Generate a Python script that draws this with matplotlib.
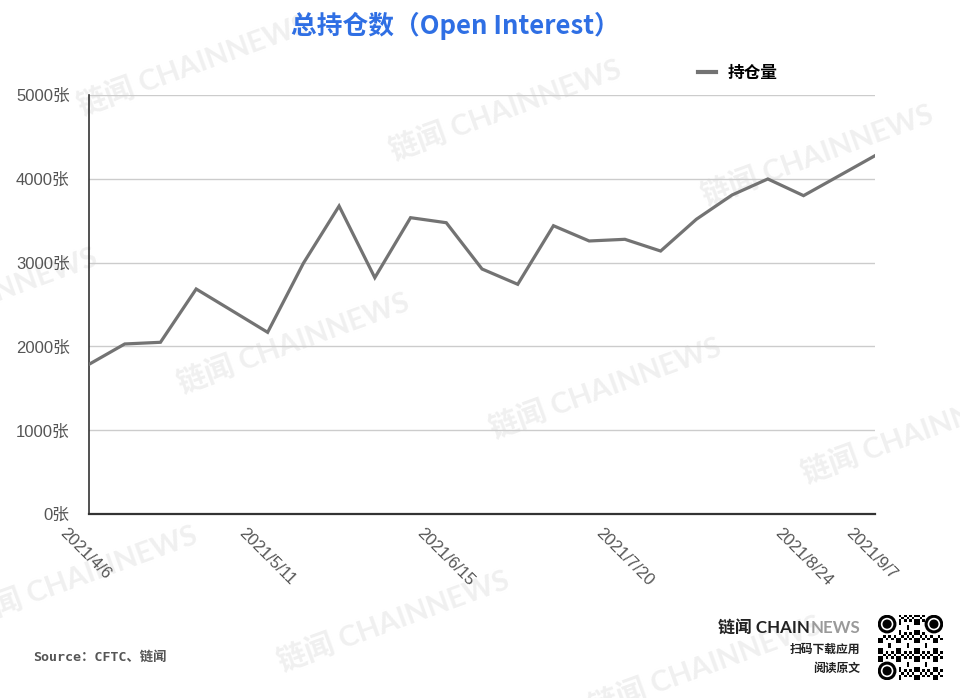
import numpy as np
import matplotlib
matplotlib.use('Agg')
import matplotlib.pyplot as plt
from matplotlib.transforms import ScaledTranslation
from matplotlib.patches import Circle

# weekly open interest (contracts)
dates = ['2021/4/6', '2021/4/13', '2021/4/20', '2021/4/27', '2021/5/4', '2021/5/11',
         '2021/5/18', '2021/5/25', '2021/6/1', '2021/6/8', '2021/6/15', '2021/6/22',
         '2021/6/29', '2021/7/6', '2021/7/13', '2021/7/20', '2021/7/27', '2021/8/3',
         '2021/8/10', '2021/8/17', '2021/8/24', '2021/8/31', '2021/9/7']
open_interest = [1786, 2029, 2049, 2685, 2427, 2168, 2992, 3675, 2820, 3536, 3476, 2924,
                 2741, 3440, 3258, 3278, 3138, 3517, 3807, 3998, 3799, 4037, 4276]
shown_dates = ['2021/4/6', '2021/5/11', '2021/6/15', '2021/7/20', '2021/8/24', '2021/9/7']
y_ticks = [0, 1000, 2000, 3000, 4000, 5000]
y_labels = [f'{v}张' for v in y_ticks]

CJK = 'Noto Sans CJK SC'
W, H = 960, 698

fig = plt.figure(figsize=(W / 100, H / 100), dpi=100)
fig.patch.set_facecolor('white')


def fx(px):
    return px / W


def fy(py):
    return 1 - py / H


# faint watermarks on a lattice
base = np.array([505.0, 110.0])
step_a = np.array([312.0, 45.0])
step_b = np.array([100.0, 278.0])
for j in range(-1, 3):
    for i in range(-3, 3):
        cx, cy = base + i * step_a + j * step_b
        if -120 < cx < W + 120 and -60 < cy < H + 60:
            fig.text(fx(cx), fy(cy), '链闻 CHAINNEWS', rotation=20,
                     ha='center', va='center', fontsize=21, fontweight='bold',
                     family=['Lato', CJK], color='#f0f0f0', zorder=-5)

# main axes
ax = fig.add_axes([fx(89), fy(514), fx(875) - fx(89), fy(95) - fy(514)])
ax.patch.set_alpha(0)
x = np.arange(len(dates))
ax.plot(x, open_interest, color='#737373', lw=2.3, solid_joinstyle='miter',
        label='持仓量', zorder=3)

ax.set_xlim(0, len(dates) - 1)
ax.set_ylim(0, 5000)
ax.set_yticks(y_ticks)
ax.set_yticklabels(y_labels, family=['Liberation Sans', CJK], fontsize=12, color='#555555')
for v in y_ticks[1:]:
    ax.axhline(v, color='#cccccc', lw=1, zorder=1)

tick_pos = [dates.index(d) for d in shown_dates]
ax.set_xticks(tick_pos)
ax.set_xticklabels(shown_dates, family='Liberation Sans', fontsize=12, color='#555555',
                   rotation=-45, ha='left', va='top')
ax.tick_params(axis='both', length=0)
ax.tick_params(axis='x', pad=8)
ax.tick_params(axis='y', pad=14)
shift = ScaledTranslation(-0.32, 0, fig.dpi_scale_trans)
for lab in ax.get_xticklabels():
    lab.set_transform(lab.get_transform() + shift)

for side in ['top', 'right']:
    ax.spines[side].set_visible(False)
ax.spines['left'].set_color('#333333')
ax.spines['left'].set_linewidth(1.2)
ax.spines['bottom'].set_color('#333333')
ax.spines['bottom'].set_linewidth(1.6)

# legend
leg = ax.legend(loc='center left', bbox_to_anchor=(fx(698), fy(73)),
                bbox_transform=fig.transFigure, frameon=False, borderpad=0,
                borderaxespad=0, handlelength=1.1, handletextpad=0.7,
                prop={'family': CJK, 'weight': 'bold', 'size': 12})
for line in leg.get_lines():
    line.set_linewidth(3)

# title
fig.text(fx(455), fy(26), '总持仓数（Open Interest）', ha='center', va='center',
         fontsize=18.5, fontweight='bold', family=[CJK], color='#2f6fe4')

# source
fig.text(fx(33), fy(657), 'Source：CFTC、链闻', ha='left', va='center', fontsize=9.6,
         fontweight='bold', family=['DejaVu Sans Mono', CJK], color='#555555')

# brand block
fig.canvas.draw()
renderer = fig.canvas.get_renderer()
t_news = fig.text(fx(860), fy(628), 'NEWS', ha='right', va='center', fontsize=12.2,
                  fontweight='bold', family=['Lato', CJK], color='#9a9a9a')
news_left = t_news.get_window_extent(renderer).x0
fig.text(news_left / W, fy(628), '链闻 CHAIN', ha='right', va='center', fontsize=12.2,
         fontweight='bold', family=['Lato', CJK], color='#222222')
fig.text(fx(860), fy(649), '扫码下载应用', ha='right', va='center', fontsize=8.5,
         fontweight='bold', family=[CJK], color='#222222')
fig.text(fx(860), fy(668), '阅读原文', ha='right', va='center', fontsize=8.5,
         fontweight='bold', family=[CJK], color='#222222')

# QR-like badge
qa = fig.add_axes([fx(878), fy(680), fx(943) - fx(878), fy(615) - fy(680)])
n = 25
ii, jj = np.meshgrid(np.arange(n), np.arange(n), indexing='ij')
mods = ((ii * ii * 3 + jj * jj * 5 + ii * jj * 7 + ii + 2 * jj) % 7 < 3).astype(float)
for (r0, c0) in [(0, 0), (0, n - 7), (n - 7, 0)]:
    mods[r0:r0 + 8 if r0 == 0 else n, c0:c0 + 8 if c0 == 0 else n] = 0
qa.imshow(mods, cmap='Greys', vmin=0, vmax=1, extent=(0, n, n, 0), interpolation='nearest')
for (r0, c0) in [(0, 0), (0, n - 7), (n - 7, 0)]:
    qa.add_patch(Circle((c0 + 3.5, r0 + 3.5), 3.0, fill=False, lw=2.2, ec='black'))
    qa.add_patch(Circle((c0 + 3.5, r0 + 3.5), 1.5, color='black'))
qa.set_xlim(0, n)
qa.set_ylim(n, 0)
qa.axis('off')

fig.savefig('out.png', dpi=100, facecolor='white')
